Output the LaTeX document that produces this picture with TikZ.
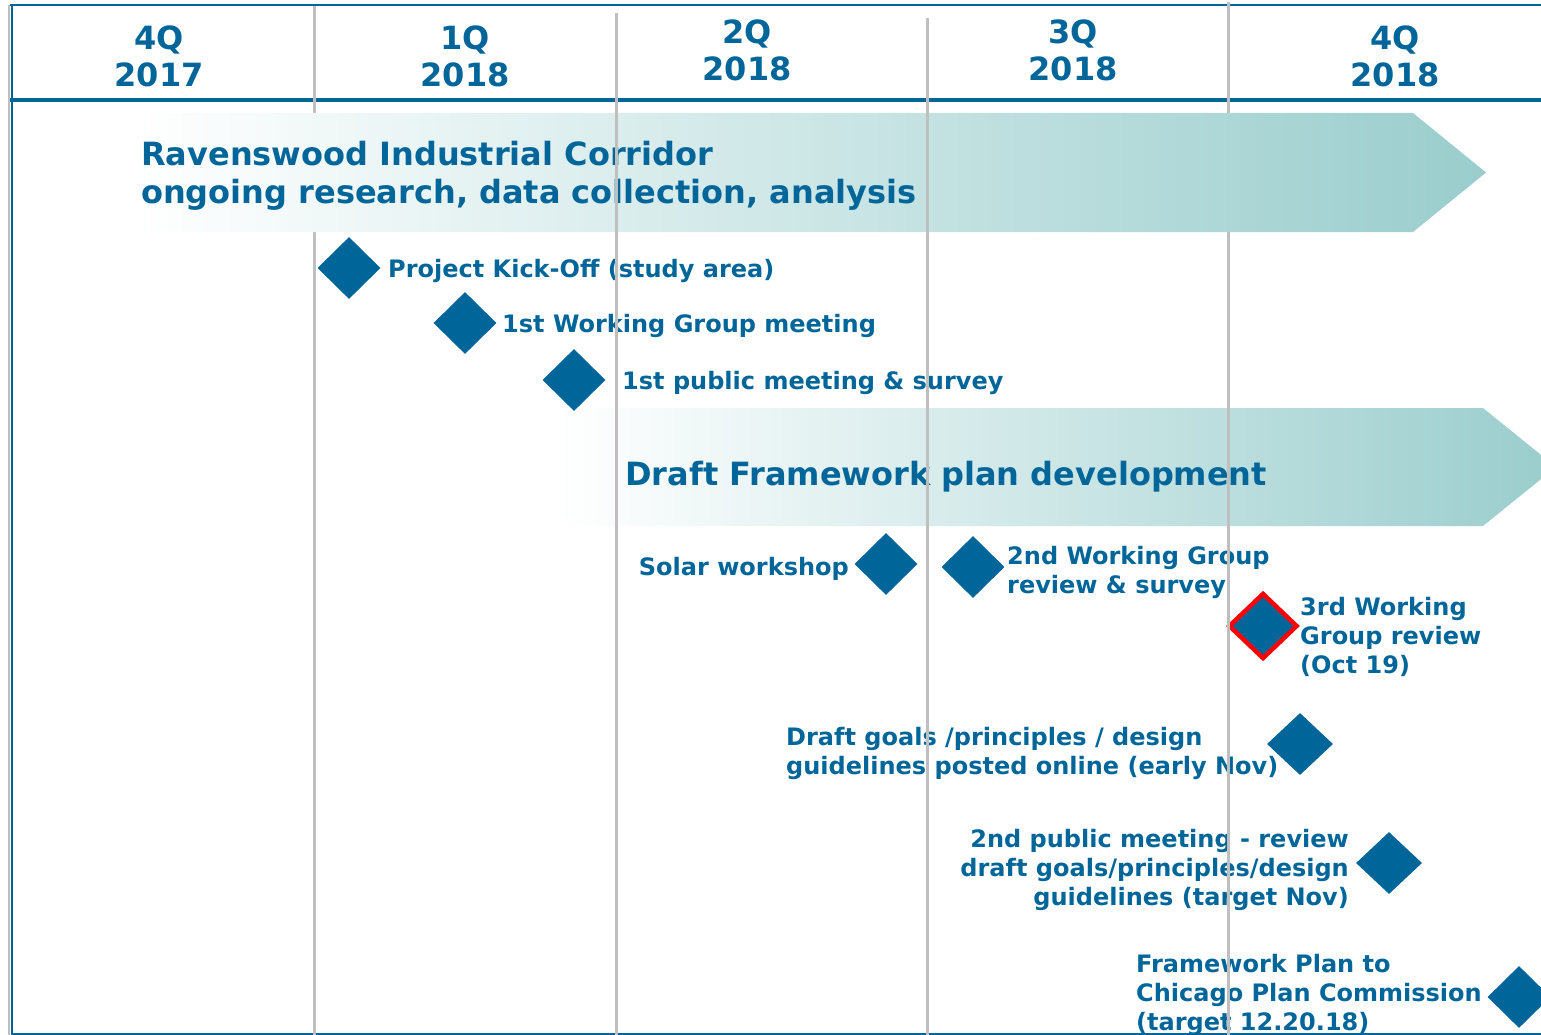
\documentclass[tikz,border=0pt]{standalone}
\usepackage{fontspec}
\setmainfont{DejaVu Sans}
\usetikzlibrary{shapes.geometric}
\definecolor{tblue}{RGB}{0,102,153}
\definecolor{tealend}{RGB}{154,205,205}
\definecolor{gline}{RGB}{191,191,191}
\begin{document}
\begin{tikzpicture}[x=1pt,y=-1pt,
  hdr/.style={font=\fontsize{32}{37}\selectfont\bfseries, text=tblue, align=center, inner sep=0, anchor=base},
  bartext/.style={font=\fontsize{32}{38}\selectfont\bfseries, text=tblue, align=left, inner sep=0, anchor=base west},
  lbl/.style={font=\fontsize{24}{29}\selectfont\bfseries, text=tblue, inner sep=0},
  ms/.style={shape=diamond, fill=tblue, draw=none, minimum width=63, minimum height=62, inner sep=0},
  msred/.style={ms, draw=red, line width=4.5, minimum width=69, minimum height=66},
  grid/.style={draw=gline, line width=3},
]
\useasboundingbox (0,0) rectangle (1541,1035);
\clip (0,0) rectangle (1541,1035);
% frame
\draw[draw=gline, line width=2] (9,5) -- (9,1035);
\draw[draw=tblue, line width=2] (11.5,5) -- (11.5,1034) -- (1541,1034);
\draw[draw=tblue, line width=2] (10,5) -- (1541,5);
\draw[draw=tblue, line width=4] (10,100.5) -- (1541,100.5);
% second bar (under all grid lines)
\shade[left color=white, right color=tealend] (560,408) -- (1483,408) -- (1556,467) -- (1483,526) -- (560,526) -- cycle;
% grid lines hidden by first bar
\coordinate (g1t) at (314,6); \coordinate (g1b) at (314,1035);
\coordinate (g4t) at (1228,2); \coordinate (g4b) at (1228,1035);
\draw[grid] (g1t) -- (g1b);
% first bar
\shade[left color=white, right color=tealend] (135,113) -- (1413,113) -- (1486,172.5) -- (1413,232) -- (135,232) -- cycle;
% headers
\node[hdr] (h1) at (159,87) {4Q\\2017};
\node[hdr] (h2) at (465,87) {1Q\\2018};
\node[hdr] (h3) at (747,81) {2Q\\2018};
\node[hdr] (h4) at (1073,81) {3Q\\2018};
\node[hdr] (h5) at (1395,87) {4Q\\2018};
% bar texts
\node[bartext] (b1) at (141,204) {Ravenswood Industrial Corridor\\ongoing research, data collection, analysis};
\node[bartext] (b2) at (625,485) {Draft Framework plan development};
% milestones
\node[ms] (d1) at (349,268) {};
\node[lbl, anchor=base west] (t1) at (388,277) {Project Kick-Off (study area)};
\node[ms] (d2) at (465,323) {};
\node[lbl, anchor=base west] (t2) at (502,332) {1st Working Group meeting};
\node[ms] (d3) at (574,380) {};
\node[lbl, anchor=base west] (t3) at (622,389) {1st public meeting \& survey};
\node[ms] (d4) at (886,564) {};
\node[lbl, anchor=base east] (t4) at (849,575) {Solar workshop};
\node[ms] (d5) at (973,567) {};
\node[lbl, anchor=base west, align=left] (t5) at (1007,593) {2nd Working Group\\review \& survey};
\node[msred] (d6) at (1263,626) {};
\node[lbl, anchor=base west, align=left] (t6) at (1300,673) {3rd Working\\Group review\\(Oct 19)};
\node[ms, minimum width=66] (d7) at (1300,744) {};
\node[lbl, anchor=base west, align=left] (t7) at (786,774) {Draft goals /principles / design\\guidelines posted online (early Nov)};
\node[ms, minimum width=66] (d8) at (1389,863) {};
\node[lbl, anchor=base east, align=right] (t8) at (1349,905) {2nd public meeting - review\\draft goals/principles/design\\guidelines (target Nov)};
\node[ms] (d9) at (1519,997) {};
\node[lbl, anchor=base west, align=left] (t9) at (1136,1030) {Framework Plan to\\Chicago Plan Commission\\(target 12.20.18)};
% grid lines on top
\coordinate (g2t) at (616,13); \coordinate (g2b) at (616,1035);
\coordinate (g3t) at (927,18); \coordinate (g3b) at (927,1035);
\coordinate (g4m) at (1228,232);
\draw[grid] (g2t) -- (g2b);
\draw[grid] (g3t) -- (g3b);
\draw[grid] (g4t) -- (1228,113);
\draw[grid] (g4m) -- (g4b);
\end{tikzpicture}
\end{document}
